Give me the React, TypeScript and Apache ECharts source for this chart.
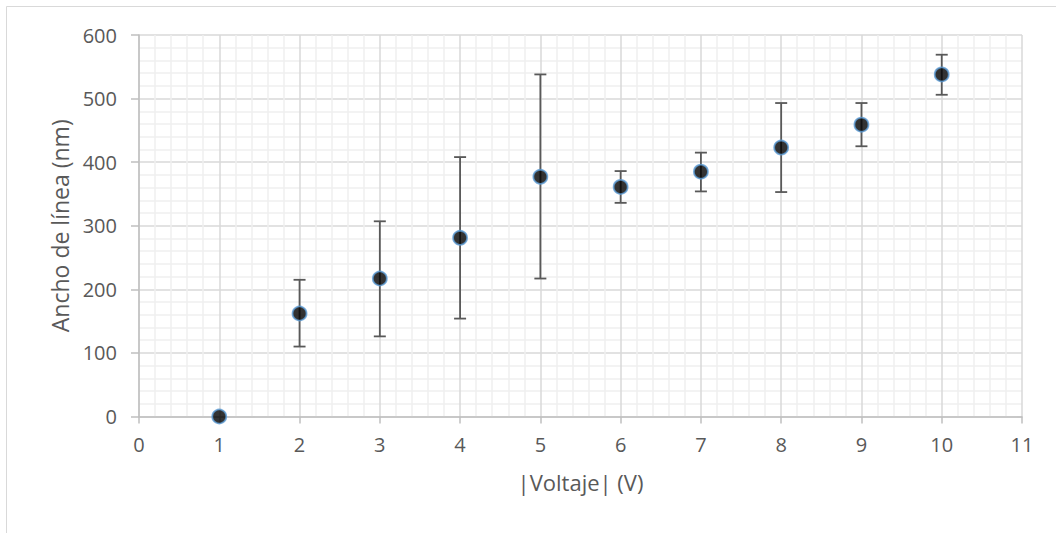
import React, { useEffect, useRef } from "react";
import * as echarts from "echarts";

// Voltage magnitude (V) and measured line width (nm) with symmetric uncertainty
const voltage = [1, 2, 3, 4, 5, 6, 7, 8, 9, 10];
const lineWidth = [0, 162, 217, 281, 377, 361, 385, 423, 459, 538];
const errorUp = [0, 53, 90, 127, 161, 25, 30, 70, 34, 31];
const errorDown = [0, 52, 91, 127, 160, 25, 31, 70, 34, 32];

const xTicks = { min: 0, max: 11, interval: 1 };
const yTicks = { min: 0, max: 600, interval: 100 };

const FONT = "'Open Sans', Lato, sans-serif";
const LABEL_COLOR = "#595959";

export default function App() {
  const ref = useRef<HTMLDivElement>(null);

  useEffect(() => {
    if (!ref.current) return;
    const chart = echarts.init(ref.current, undefined, { renderer: "svg" });

    const points = voltage.map((v, i) => [v, lineWidth[i]]);
    const bars = voltage
      .map((v, i) => [v, lineWidth[i] - errorDown[i], lineWidth[i] + errorUp[i]])
      .filter((d) => d[2] - d[1] > 0);

    chart.setOption({
      animation: false,
      backgroundColor: "#ffffff",
      textStyle: { fontFamily: FONT },
      graphic: [
        {
          type: "rect",
          shape: { x: 6.5, y: 6.5, width: 1100, height: 600 },
          style: { fill: "none", stroke: "#d9d9d9", lineWidth: 1 },
          silent: true,
          z: -10,
        },
      ],
      grid: { left: 139, right: 34, top: 35, bottom: 116.5 },
      xAxis: {
        type: "value",
        min: xTicks.min,
        max: xTicks.max,
        interval: xTicks.interval,
        name: "|Voltaje| (V)",
        nameLocation: "middle",
        nameGap: 54,
        nameTextStyle: { fontSize: 22, color: LABEL_COLOR, fontFamily: FONT },
        axisLine: { show: true, onZero: false, lineStyle: { color: "#bfbfbf", width: 1.5 } },
        axisTick: { show: true, inside: false, length: 7, lineStyle: { color: "#bfbfbf", width: 1.5 } },
        axisLabel: { fontSize: 20, color: LABEL_COLOR, margin: 18, fontFamily: FONT },
        splitLine: { show: true, lineStyle: { color: "#d9d9d9", width: 1.5 } },
        minorTick: { show: false, splitNumber: 5 },
        minorSplitLine: { show: true, lineStyle: { color: "#efefef", width: 1.5 } },
      },
      yAxis: {
        type: "value",
        min: yTicks.min,
        max: yTicks.max,
        interval: yTicks.interval,
        name: "Ancho de línea (nm)",
        nameLocation: "middle",
        nameGap: 68,
        nameRotate: 90,
        nameTextStyle: { fontSize: 23, color: LABEL_COLOR, fontFamily: FONT },
        axisLine: { show: true, lineStyle: { color: "#bfbfbf", width: 1.5 } },
        axisTick: { show: true, inside: false, length: 8, lineStyle: { color: "#bfbfbf", width: 1.5 } },
        axisLabel: { fontSize: 20, color: LABEL_COLOR, margin: 22, fontFamily: FONT },
        splitLine: { show: true, lineStyle: { color: "#d9d9d9", width: 1.5 } },
        minorTick: { show: false, splitNumber: 5 },
        minorSplitLine: { show: true, lineStyle: { color: "#efefef", width: 1.5 } },
      },
      series: [
        {
          type: "custom",
          data: bars,
          z: 2,
          silent: true,
          renderItem: (params: any, api: any) => {
            const x = api.value(0);
            const lo = api.coord([x, api.value(1)]);
            const hi = api.coord([x, api.value(2)]);
            const half = 6;
            const style = { stroke: "#595959", lineWidth: 1.8 };
            return {
              type: "group",
              children: [
                { type: "line", shape: { x1: hi[0], y1: hi[1], x2: lo[0], y2: lo[1] }, style },
                { type: "line", shape: { x1: hi[0] - half, y1: hi[1], x2: hi[0] + half, y2: hi[1] }, style },
                { type: "line", shape: { x1: lo[0] - half, y1: lo[1], x2: lo[0] + half, y2: lo[1] }, style },
              ],
            };
          },
        },
        {
          type: "scatter",
          data: points,
          z: 3,
          symbol: "circle",
          symbolSize: 14,
          itemStyle: { color: "#000000", borderColor: "#5b9bd5", borderWidth: 1.8 },
        },
      ],
    });

    return () => chart.dispose();
  }, []);

  return (
    <div
      ref={ref}
      style={{ position: "absolute", left: 0, top: 0, width: 1056, height: 533 }}
    />
  );
}
